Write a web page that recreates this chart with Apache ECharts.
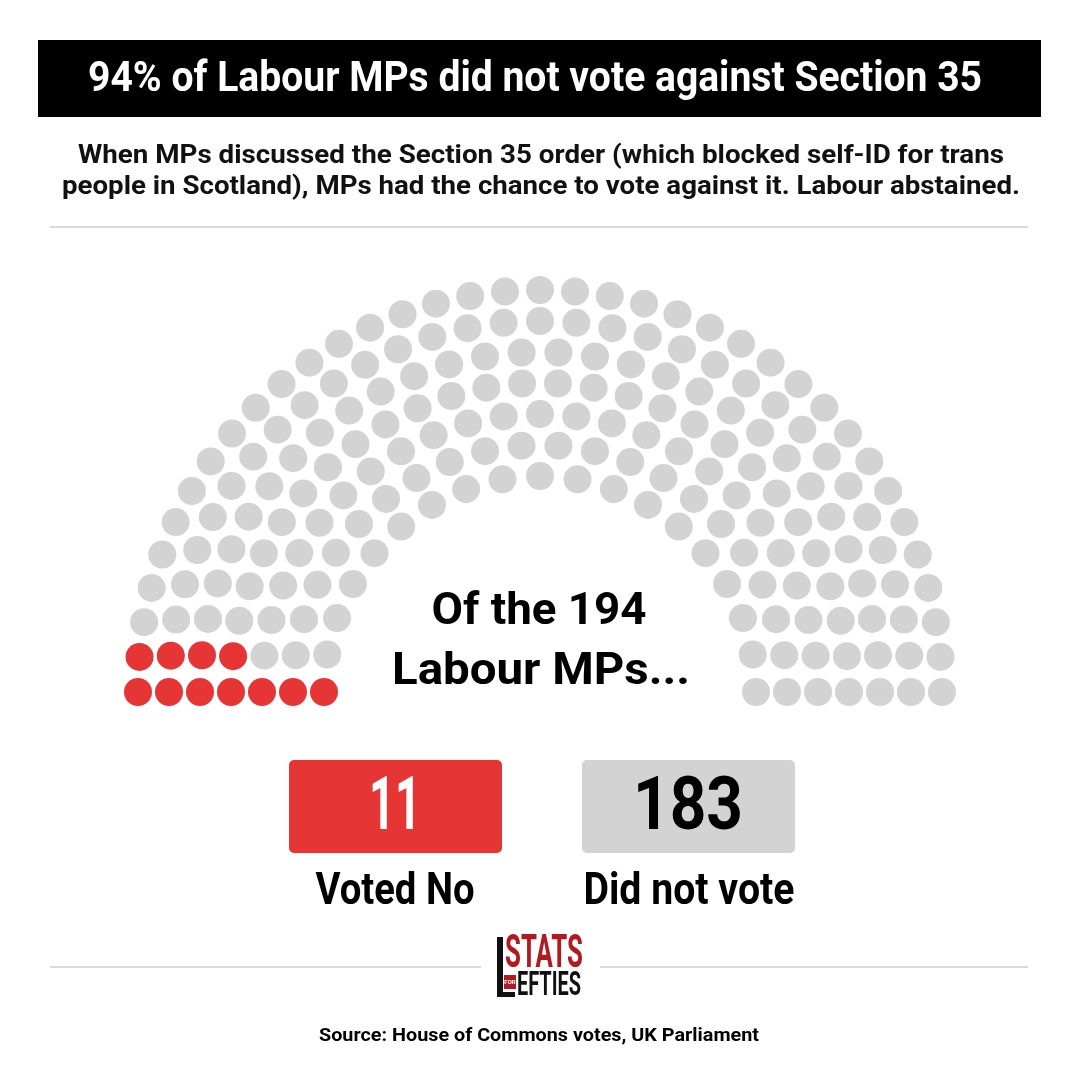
<!DOCTYPE html>
<html>
<head>
<meta charset="utf-8">
<script src="https://cdn.jsdelivr.net/npm/echarts@6/dist/echarts.min.js"></script>
<style>
  html, body { margin: 0; padding: 0; background: #ffffff; }
  #chart { width: 1080px; height: 1080px; }
</style>
</head>
<body>
<div id="chart"></div>
<script>
// ---- DATA ----
const titleText = '94% of Labour MPs did not vote against Section 35';
const subtitleLines = [
  'When MPs discussed the Section 35 order (which blocked self-ID for trans',
  'people in Scotland), MPs had the chance to vote against it. Labour abstained.'
];
const centerLines = ['Of the 194', 'Labour MPs...'];
const categories = ['Voted No', 'Did not vote'];
const values = [11, 183];
const seatsPerRing = [19, 22, 25, 28, 30, 33, 37]; // inner -> outer, total 194
const sourceText = 'Source: House of Commons votes, UK Parliament';

// ---- STYLE ----
const RED = '#E53535';
const GREY = '#D3D3D3';
const FONT = 'Roboto';

// build seats from ring counts (parliament layout), ordered left -> right by angle
const seats = [];
seatsPerRing.forEach(function (n, i) {
  for (let k = 0; k < n; k++) {
    seats.push({ ring: i + 1, angle: k * 180 / (n - 1) });
  }
});
seats.sort(function (a, b) {
  if (Math.abs(a.angle - b.angle) > 1e-9) return a.angle - b.angle;
  return b.ring - a.ring;
});
const seriesData = [[], []];
let idx = 0;
values.forEach(function (v, c) {
  for (let j = 0; j < v; j++, idx++) {
    seriesData[c].push([seats[idx].ring, seats[idx].angle]);
  }
});

// text helper: fit text to a target width with horizontal scale (condensed look)
const measureCtx = document.createElement('canvas').getContext('2d');
function fitText(text, cx, cy, size, targetW, fill, weight) {
  weight = weight || 'bold';
  measureCtx.font = weight + ' ' + size + 'px ' + FONT;
  const w = measureCtx.measureText(text).width;
  const sx = targetW / w;
  return {
    type: 'text', x: cx, y: cy, scaleX: sx, scaleY: 1, z: 10,
    style: {
      text: text, fill: fill, fontSize: size, fontWeight: weight, fontFamily: FONT,
      align: 'center', verticalAlign: 'middle'
    }
  };
}

const chart = echarts.init(document.getElementById('chart'), null, { renderer: 'canvas' });

const graphics = [
  // title bar
  { type: 'rect', shape: { x: 38, y: 40, width: 1003, height: 77 }, style: { fill: '#000000' }, z: 1 },
  fitText(titleText, 535, 80, 42, 894, '#ffffff'),
  fitText(subtitleLines[0], 541, 157, 25, 926, '#111111'),
  fitText(subtitleLines[1], 541, 188, 25, 958, '#111111'),
  // divider
  { type: 'rect', shape: { x: 50, y: 226, width: 978, height: 2 }, style: { fill: '#DADADA' }, z: 1 },
  // center text
  fitText(centerLines[0], 539, 613, 45, 215, '#000000'),
  fitText(centerLines[1], 541, 673, 45, 298, '#000000'),
  // value boxes
  { type: 'rect', shape: { x: 289, y: 760, width: 213, height: 93, r: 5 }, style: { fill: RED }, z: 1 },
  { type: 'rect', shape: { x: 582, y: 760, width: 213, height: 93, r: 5 }, style: { fill: GREY }, z: 1 },
  fitText(String(values[0]), 395, 810, 74, 52, '#ffffff'),
  fitText(String(values[1]), 688, 810, 74, 110, '#000000'),
  fitText(categories[0], 395, 893, 44, 159, '#000000'),
  fitText(categories[1], 689, 893, 44, 211, '#000000'),
  // logo divider lines
  { type: 'rect', shape: { x: 50, y: 966, width: 431, height: 2 }, style: { fill: '#DADADA' }, z: 1 },
  { type: 'rect', shape: { x: 600, y: 966, width: 428, height: 2 }, style: { fill: '#DADADA' }, z: 1 },
  // logo
  { type: 'rect', shape: { x: 497, y: 937, width: 6, height: 60 }, style: { fill: '#111111' }, z: 5 },
  { type: 'rect', shape: { x: 497, y: 992, width: 18, height: 5 }, style: { fill: '#111111' }, z: 5 },
  fitText('STATS', 544, 955, 46, 78, '#B3191E'),
  { type: 'rect', shape: { x: 504, y: 975, width: 12, height: 14 }, style: { fill: '#B3191E' }, z: 5 },
  { type: 'text', x: 510, y: 982, z: 10, style: { text: 'FOR', fill: '#ffffff', fontSize: 6, fontFamily: FONT, fontWeight: 'bold', align: 'center', verticalAlign: 'middle' } },
  fitText('EFTIES', 549, 986, 34, 64, '#111111'),
  // source
  fitText(sourceText, 539, 1036, 19, 440, '#000000')
];

const option = {
  backgroundColor: '#ffffff',
  animation: false,
  polar: { center: [540, 692], radius: [216, 402] },
  radiusAxis: { type: 'value', min: 1, max: 7, show: false },
  angleAxis: { type: 'value', min: 0, max: 360, startAngle: 180, clockwise: true, show: false },
  series: [
    {
      name: categories[0], type: 'scatter', coordinateSystem: 'polar',
      symbol: 'circle', symbolSize: 28, silent: true,
      itemStyle: { color: RED, opacity: 1 }, data: seriesData[0]
    },
    {
      name: categories[1], type: 'scatter', coordinateSystem: 'polar',
      symbol: 'circle', symbolSize: 28, silent: true,
      itemStyle: { color: GREY, opacity: 1 }, data: seriesData[1]
    }
  ],
  graphic: { elements: graphics }
};
chart.setOption(option);
</script>
</body>
</html>
